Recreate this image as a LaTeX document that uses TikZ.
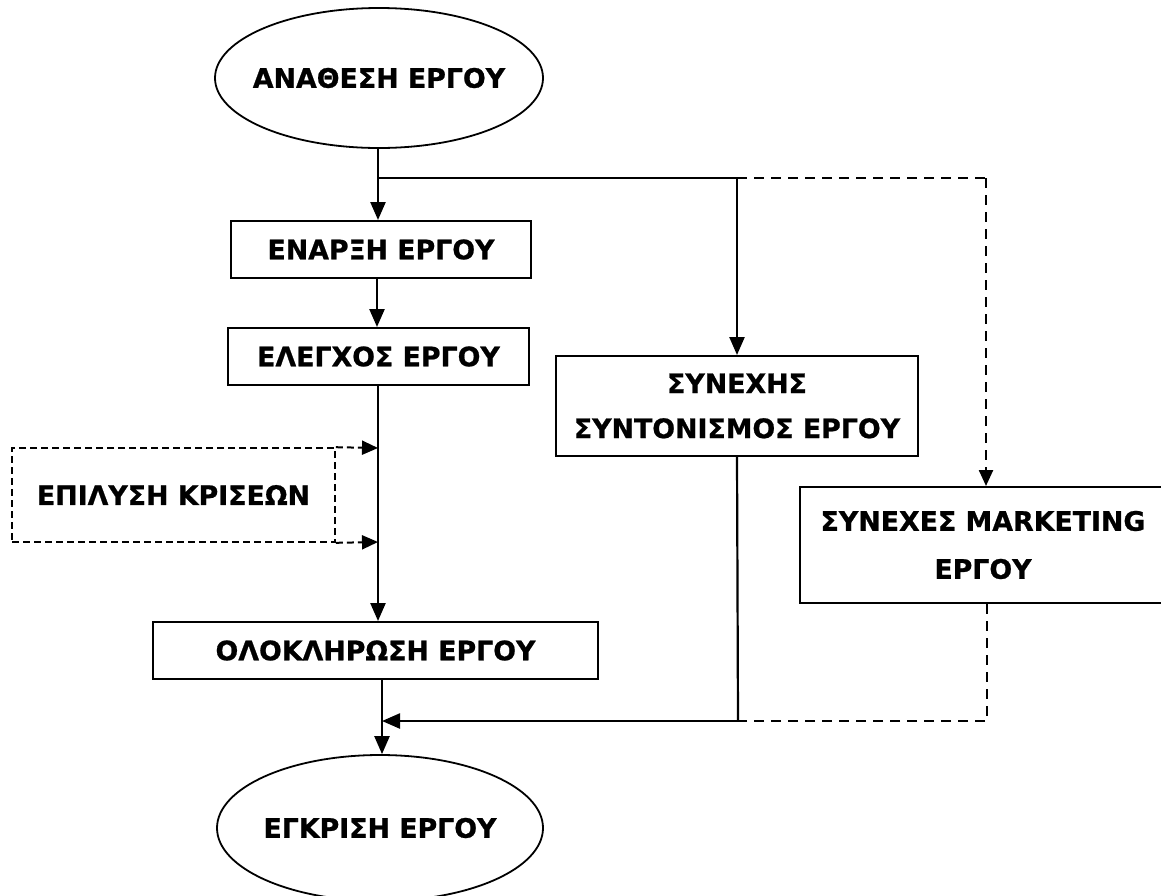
\documentclass[tikz,border=0pt]{standalone}
\usepackage{fontspec}
\setmainfont{DejaVu Sans}[BoldFeatures={FakeBold=0.8}]
\usetikzlibrary{shapes.geometric,arrows.meta}

\tikzset{
  label font/.style={font=\bfseries\fontsize{26.8}{45}\selectfont},
  terminal/.style={ellipse, draw, line width=1.8pt, inner sep=0pt, label font},
  stepbox/.style={rectangle, draw, line width=2pt, inner sep=0pt, align=center, label font},
  optbox/.style={rectangle, draw, line width=1.6pt, dash pattern=on 7pt off 4pt, inner sep=0pt, label font},
  tip/.style={-{Triangle[length=18pt,width=15pt]}},
  flow/.style={line width=2.4pt, tip},
  link/.style={line width=2.2pt},
  dashflow/.style={line width=2.4pt, dash pattern=on 10pt off 7pt, -{Triangle[length=16pt,width=14pt]}},
  dashlink/.style={line width=2.4pt, dash pattern=on 10pt off 7pt},
}

\begin{document}
\begin{tikzpicture}[x=1pt,y=-1pt]
  \useasboundingbox (0,0) rectangle (1161,895);

  % nodes
  \node[terminal, minimum width=328pt, minimum height=140pt] (start) at (379,78) {\makebox[0pt]{ΑΝΑΘΕΣΗ ΕΡΓΟΥ}};
  \node[stepbox, minimum width=300pt, minimum height=57pt] (begin) at (381,249.5) {ΕΝΑΡΞΗ ΕΡΓΟΥ};
  \node[stepbox, minimum width=301pt, minimum height=57pt] (control) at (378.5,356.5) {ΕΛΕΓΧΟΣ ΕΡΓΟΥ};
  \node[stepbox, minimum width=362pt, minimum height=100pt] (coord) at (737,406) {ΣΥΝΕΧΗΣ\\ΣΥΝΤΟΝΙΣΜΟΣ ΕΡΓΟΥ};
  \node[stepbox, minimum width=366pt, minimum height=116pt, font=\bfseries\fontsize{26.8}{48}\selectfont] (mkt) at (983,545) {ΣΥΝΕΧΕΣ MARKETING\\ΕΡΓΟΥ};
  \node[optbox, minimum width=323pt, minimum height=94pt] (crisis) at (173.5,495) {ΕΠΙΛΥΣΗ ΚΡΙΣΕΩΝ};
  \node[stepbox, minimum width=445pt, minimum height=57pt] (finish) at (375.5,650.5) {ΟΛΟΚΛΗΡΩΣΗ ΕΡΓΟΥ};
  \node[terminal, minimum width=326pt, minimum height=146pt] (approve) at (380,828) {\makebox[0pt]{ΕΓΚΡΙΣΗ ΕΡΓΟΥ}};

  % junction points
  \coordinate (split) at (378,178);
  \coordinate (splitR) at (737,178);
  \coordinate (splitD) at (986,178);
  \coordinate (inTop) at (378,448);
  \coordinate (inBot) at (378,542);
  \coordinate (merge) at (382,721);
  \coordinate (mergeR) at (738,721);
  \coordinate (mergeD) at (987,721);

  % main chain
  \draw[link] (start.south -| split) -- (split);
  \draw[flow] (split) -- (split |- begin.north);
  \draw[flow] (begin.south -| 377,0) -- (control.north -| 377,0);
  \draw[flow] (control.south -| 378,0) -- (finish.north -| 378,0);
  \draw[flow] (finish.south -| merge) -- (approve.north -| merge);

  % parallel branches
  \draw[link] (split) -- (splitR);
  \draw[flow] (splitR) -- (coord.north);
  \draw[dashlink] (splitR) -- (splitD);
  \draw[dashflow] (splitD) -- (splitD |- mkt.north);

  % crisis handling feeds the main line
  \draw[optbox, line width=2pt, -{Triangle[length=16pt,width=14pt]}] (crisis.north east) -- (inTop);
  \draw[optbox, line width=2pt, -{Triangle[length=16pt,width=14pt]}] (crisis.south east) -- (inBot);

  % branches rejoin before approval
  \draw[link] (coord.south) -- (mergeR);
  \draw[flow] (mergeR) -- (merge);
  \draw[dashlink] (mkt.south -| mergeD) -- (mergeD) -- (mergeR);
\end{tikzpicture}
\end{document}
